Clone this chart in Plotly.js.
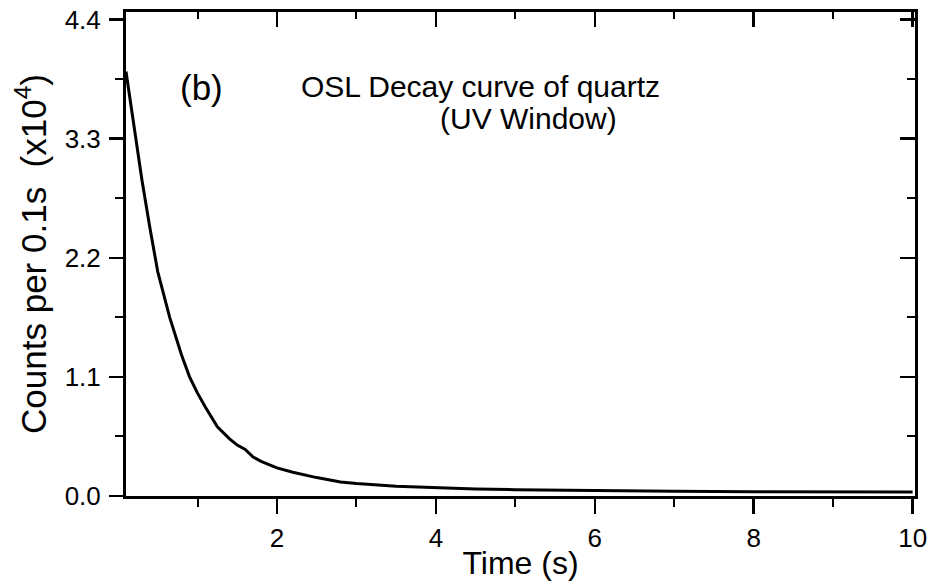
<!DOCTYPE html>
<html>
<head>
<meta charset="utf-8">
<script src="https://cdn.plot.ly/plotly-3.0.1.min.js"></script>
<style>html,body{margin:0;padding:0;background:#fff;}#chart{width:930px;height:588px;}</style>
</head>
<body>
<div id="chart"></div>
<script>
const timeS = [0.1, 0.2, 0.3, 0.4, 0.5, 0.65, 0.8, 0.9, 1.0, 1.1, 1.25, 1.4, 1.5, 1.6, 1.7, 1.8, 2.0, 2.2, 2.5, 2.8, 3.0, 3.5, 4.0, 4.5, 5.0, 6.0, 7.0, 8.0, 9.0, 10.0];
const counts = [3.92, 3.40, 2.92, 2.48, 2.07, 1.65, 1.30, 1.10, 0.95, 0.82, 0.64, 0.53, 0.47, 0.43, 0.36, 0.32, 0.26, 0.22, 0.17, 0.13, 0.115, 0.09, 0.075, 0.065, 0.058, 0.048, 0.044, 0.040, 0.038, 0.036];
const xTicks = [2, 4, 6, 8, 10];
const yTicks = [0.0, 1.1, 2.2, 3.3, 4.4];
const yTickLabels = ["0.0", "1.1", "2.2", "3.3", "4.4"];

const FONT = "Liberation Sans, Arial, sans-serif";
const xRange = [0.1, 10.03];
const yRange = [0, 4.47];

const traces = [
  {x: timeS, y: counts, type: 'scatter', mode: 'lines', line: {color: '#000', width: 3}, hoverinfo: 'skip', showlegend: false},
  {x: [xRange[0]], y: [yRange[0]], xaxis: 'x2', yaxis: 'y2', type: 'scatter', mode: 'markers', marker: {opacity: 0}, hoverinfo: 'skip', showlegend: false}
];

const layout = {
  width: 930, height: 588,
  margin: {l: 126, r: 15, t: 12, b: 92},
  paper_bgcolor: '#fff', plot_bgcolor: '#fff',
  font: {family: FONT, color: '#000'},
  showlegend: false,
  xaxis: {
    range: xRange, showgrid: false, zeroline: false,
    showline: true, linecolor: '#000', linewidth: 3,
    ticks: 'outside', ticklen: 15, tickwidth: 2.5, tickcolor: '#000',
    tickmode: 'array', tickvals: xTicks, ticktext: xTicks.map(String),
    minor: {tickmode: 'array', tickvals: [1, 3, 5, 7, 9], ticks: 'outside', ticklen: 8, tickwidth: 2, tickcolor: '#000'},
    tickfont: {size: 26, family: FONT},
    ticklabelstandoff: 2,
    title: {text: 'Time (s)', font: {size: 32, family: FONT}, standoff: 0}
  },
  yaxis: {
    range: yRange, showgrid: false, zeroline: false,
    showline: true, linecolor: '#000', linewidth: 3,
    ticks: 'outside', ticklen: 14, tickwidth: 2.5, tickcolor: '#000',
    tickmode: 'array', tickvals: yTicks, ticktext: yTickLabels,
    minor: {tickmode: 'array', tickvals: [0.55, 1.65, 2.75, 3.85], ticks: 'outside', ticklen: 8, tickwidth: 2, tickcolor: '#000'},
    tickfont: {size: 26, family: FONT},
    ticklabelstandoff: 3,
    title: {text: 'Counts per 0.1s  (x10<sup>4</sup>)', font: {size: 35, family: FONT}, standoff: 8}
  },
  xaxis2: {
    overlaying: 'x', side: 'top', range: xRange, showgrid: false, zeroline: false,
    showline: true, linecolor: '#000', linewidth: 3, showticklabels: false,
    ticks: 'inside', ticklen: 15, tickwidth: 2.5, tickcolor: '#000',
    tickmode: 'array', tickvals: xTicks,
    minor: {tickmode: 'array', tickvals: [1, 3, 5, 7, 9], ticks: 'inside', ticklen: 7, tickwidth: 2, tickcolor: '#000'}
  },
  yaxis2: {
    overlaying: 'y', side: 'right', range: yRange, showgrid: false, zeroline: false,
    showline: true, linecolor: '#000', linewidth: 3, showticklabels: false,
    ticks: 'inside', ticklen: 15, tickwidth: 2.5, tickcolor: '#000',
    tickmode: 'array', tickvals: yTicks,
    minor: {tickmode: 'array', tickvals: [0.55, 1.65, 2.75, 3.85], ticks: 'inside', ticklen: 8, tickwidth: 2, tickcolor: '#000'}
  },
  annotations: [
    {xref: 'paper', yref: 'paper', x: 0.0963, y: 0.843, xanchor: 'center', yanchor: 'middle', text: '(b)', showarrow: false, font: {size: 35, family: FONT}},
    {xref: 'paper', yref: 'paper', x: 0.449, y: 0.847, xanchor: 'center', yanchor: 'middle', text: 'OSL Decay curve of quartz', showarrow: false, font: {size: 30, family: FONT}},
    {xref: 'paper', yref: 'paper', x: 0.51, y: 0.78, xanchor: 'center', yanchor: 'middle', text: '(UV Window)', showarrow: false, font: {size: 30, family: FONT}}
  ]
};

Plotly.newPlot('chart', traces, layout, {displayModeBar: false, staticPlot: true});
</script>
</body>
</html>
